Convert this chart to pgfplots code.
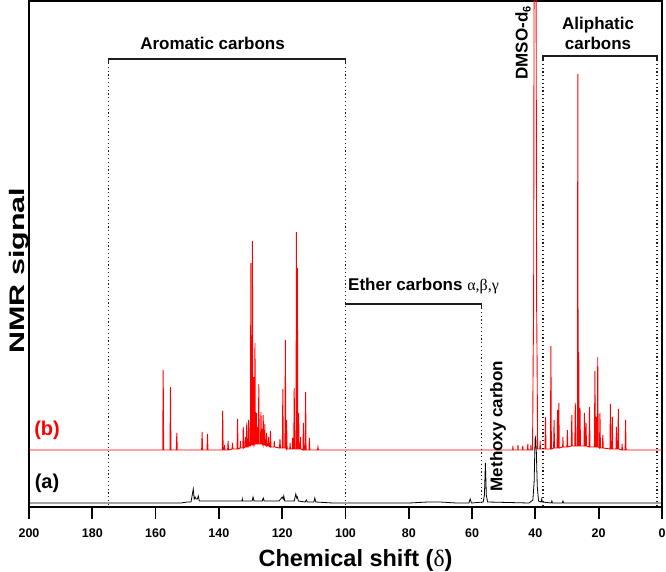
\documentclass[border=0pt]{standalone}
\usepackage{fontspec}
\setmainfont{Liberation Sans}
\newfontfamily\greek{Liberation Serif}
\usepackage{pgfplots}
\pgfplotsset{compat=1.18}
\definecolor{nmrred}{RGB}{255,0,0}
\definecolor{brk}{RGB}{30,30,30}

\begin{document}
\begin{tikzpicture}
\begin{axis}[name=ax, scale only axis, width=633pt, height=506pt,
  xmin=0, xmax=200, ymin=0, ymax=506, x dir=reverse,
  xtick={0,20,...,200}, ytick=\empty, tick pos=left, tick align=outside,
  major tick length=12pt, xtick style={line width=1.8pt, draw=black},
  axis line style={line width=1.8pt},
  /pgf/number format/assume math mode=true,
  xticklabel style={font=\fontsize{12.5}{14}\selectfont\bfseries, inner sep=2pt, yshift=-8pt},
  xlabel={Chemical shift ({\greek\mdseries δ})},
  xlabel style={font=\fontsize{23.5}{26}\selectfont\bfseries, at={(axis description cs:0.5,0)}, anchor=center, xshift=10pt, yshift=-53pt},
  ylabel={\scalebox{1.45}[1]{NMR signal}},
  ylabel style={font=\fontsize{21}{24}\selectfont\bfseries, at={(axis description cs:0,0.485)}, anchor=south, inner sep=0pt, xshift=-9pt},
  clip mode=individual,
]
% (b) red spectrum
\addplot[nmrred, line width=0.9pt, sharp plot] coordinates {
(200,57)(180,57)(160,57)
(157.75,57)(157.6,137)(157.45,57)
(155.45,57)(155.3,120)(155.15,57)
(153.45,57)(153.3,74)(153.15,57)
(145.45,57)(145.3,75)(145.15,57)
(143.75,57)(143.6,73)(143.45,57)
(141,57)
(138.95,57)(138.8,96)(138.65,57)
(138.3,57)(138.2,62)(138.1,57)
(137.25,57)(137.1,66)(136.95,57)
(135.85,58)(135.7,64)(135.55,58)
(134.25,58)(134.1,88)(133.95,58)
(133.3,59)(133.2,66)(133.1,59)
(132.45,59)(132.3,80)(132.15,59)
(131.75,60)(131.65,70)(131.55,60)
(131.35,60)(131.2,84)(131.05,60)
(130.75,60)(130.6,87)(130.45,61)
(130.05,61)(129.9,244)(129.75,62)
(129.55,62)(129.4,266)(129.25,62)
(129.12,62)(129.0,130)(128.85,62)
(128.75,63)(128.6,164)(128.45,63)
(128.25,63)(128.1,94)(127.95,63)
(127.8,63)(127.7,80)(127.6,63)
(127.5,63)(127.4,123)(127.25,63)
(126.85,63)(126.7,95)(126.55,63)
(126.4,63)(126.3,78)(126.2,63)
(126.1,62)(126.0,92)(125.85,62)
(125.6,62)(125.5,83)(125.35,62)
(125.05,61)(124.9,74)(124.75,61)
(124.4,61)(124.3,70)(124.2,61)
(123.85,60)(123.7,76)(123.55,60)
(122.6,60)(122.5,66)(122.4,60)
(120.85,59)(120.7,68)(120.55,59)
(119.95,59)(119.8,118)(119.65,59)
(119.15,59)(119.0,167)(118.85,59)
(118.7,58)(118.6,87)(118.45,58)
(117.6,58)(117.5,64)(117.4,58)
(116.85,58)(116.7,69)(116.55,58)
(116.35,58)(116.2,119)(116.05,58)
(115.65,58)(115.5,275)(115.38,58)
(115.3,58)(115.2,239)(115.05,58)
(114.9,58)(114.8,94)(114.65,58)
(114.3,58)(114.2,70)(114.1,58)
(113.45,57)(113.3,84)(113.15,57)
(112.75,57)(112.6,115)(112.45,57)
(111.55,57)(111.4,69)(111.25,57)
(108.85,57)(108.7,60)(108.55,57)
(100,57)(60,57)
(47.2,57)(47.1,61)(47,57)
(45.6,57)(45.5,62)(45.4,57)
(44.1,57)(44,61)(43.9,57)
(42.5,57)(42.4,63)(42.3,57)
(41.5,57)(41.4,62)(41.3,57)
(40.9,57)(40.7,150)(40.55,200)(40.4,560)(40.2,560)(40.0,560)(39.8,560)(39.6,200)(39.45,140)(39.3,58)
(38.6,58)(38.5,66)(38.4,58)
(36.95,58)(36.8,90)(36.65,58)
(35.25,58)(35.1,161)(34.95,58)
(34.25,59)(34.1,87)(33.95,59)
(33.15,59)(33.0,97)(32.85,59)
(32.75,59)(32.6,104)(32.45,59)
(31.4,60)(31.3,70)(31.2,60)
(30.05,60)(29.9,77)(29.75,60)
(28.65,61)(28.5,92)(28.35,61)
(27.55,61)(27.4,104)(27.25,61)
(26.72,61)(26.6,433)(26.48,61)
(26.4,61)(26.3,155)(26.15,61)
(26.0,61)(25.9,99)(25.75,61)
(24.65,61)(24.5,94)(24.35,61)
(24.15,61)(24.0,84)(23.85,61)
(23.05,60)(22.9,100)(22.75,60)
(21.35,60)(21.2,136)(21.05,60)
(20.95,60)(20.8,90)(20.65,60)
(20.45,60)(20.3,150)(20.15,60)
(19.75,59)(19.6,94)(19.45,59)
(18.85,59)(18.7,72)(18.55,59)
(16.45,58)(16.3,103)(16.15,58)
(15.85,58)(15.7,90)(15.55,58)
(14.55,58)(14.4,80)(14.25,58)
(13.95,58)(13.8,98)(13.65,58)
(12.7,57)(12.6,63)(12.5,57)
(11.65,57)(11.5,87)(11.35,57)
(0,57)
};
% (a) black spectrum
\addplot[black, line width=0.8pt, sharp plot] coordinates {
(200,4)(152,4)(150,5)
(148.8,5)(148.1,18)(147.8,8)(147.5,10)(147.2,8)(146.8,8)(146.5,11)(146.2,6)
(140,6)(133,6)(132.7,6)(132.6,8)(132.5,6)
(129.5,6)(129.2,10)(128.9,6)
(126.3,6)(126.0,9)(125.7,6)
(121,6)(120.0,10)(119.7,8)(119.5,11)(119.2,6)
(116.2,6)(115.7,13)(115.4,9)(115.2,10)(114.9,6)
(112.7,5)(112.4,7)(112.1,5)
(110.0,5)(109.7,9)(109.4,5)
(104,4)(80,4)(74,5)(70,5)(65,4)
(61.0,4)(60.6,8)(60.2,4)
(56.5,5)(56.1,12)(55.8,44)(55.5,12)(55.1,5)
(42,4)(40.8,7)(40.4,25)(40.1,68)(39.9,70)(39.7,55)(39.4,20)(39.0,6)
(38.2,5)(38.0,8)(37.8,5)
(35,4)(34.8,6)(34.6,4)
(31.5,4)(31.3,6)(31.1,4)
(0,4)
};
% brackets
\draw[brk, line width=1.2pt] (axis cs:175,444) -- (axis cs:175,448) -- (axis cs:100,448) -- (axis cs:100,444);
\draw[brk, line width=1.2pt] (axis cs:100,203) -- (axis cs:57,203) -- (axis cs:57,199);
\draw[brk, line width=1.2pt] (axis cs:37.6,447) -- (axis cs:37.6,451) -- (axis cs:1.6,451) -- (axis cs:1.6,447);
\draw[brk, line width=1.2pt, dash pattern=on 1.2pt off 2.6pt] (axis cs:175,444) -- (axis cs:175,0);
\draw[brk, line width=1.2pt, dash pattern=on 1.2pt off 2.6pt] (axis cs:100,444) -- (axis cs:100,0);
\draw[brk, line width=1.2pt, dash pattern=on 1.2pt off 2.6pt] (axis cs:57,199) -- (axis cs:57,0);
\draw[brk, line width=1.2pt, dash pattern=on 1.2pt off 2.6pt] (axis cs:37.6,447) -- (axis cs:37.6,0);
\draw[brk, line width=1.2pt, dash pattern=on 1.2pt off 2.6pt] (axis cs:1.6,447) -- (axis cs:1.6,0);
% labels
\node[font=\fontsize{17}{20}\selectfont\bfseries] at (axis cs:142,464) {Aromatic carbons};
\node[font=\fontsize{17}{20}\selectfont\bfseries, anchor=west, inner sep=0pt] at (axis cs:99.2,221) {Ether carbons {\greek\mdseries\fontsize{16}{18}\selectfont α,β,γ}};
\node[font=\fontsize{17}{20}\selectfont\bfseries, align=center] at (axis cs:20.2,474) {Aliphatic\\carbons};
\node[font=\fontsize{17}{20}\selectfont\bfseries, rotate=90] at (axis cs:43.9,464) {DMSO-d\raisebox{-0.35ex}{\fontsize{11}{12}\selectfont 6}};
\node[font=\fontsize{17}{20}\selectfont\bfseries, rotate=90] at (axis cs:51.8,81) {Methoxy carbon};
\node[font=\fontsize{20}{22}\selectfont\bfseries, text=nmrred] at (axis cs:194.3,77) {(b)};
\node[font=\fontsize{20}{22}\selectfont\bfseries] at (axis cs:194.3,24) {(a)};
\end{axis}
\pgfresetboundingbox
\path ([shift={(-29pt,-64pt)}]ax.south west) rectangle ([shift={(4pt,1pt)}]ax.north east);
\end{tikzpicture}
\end{document}
